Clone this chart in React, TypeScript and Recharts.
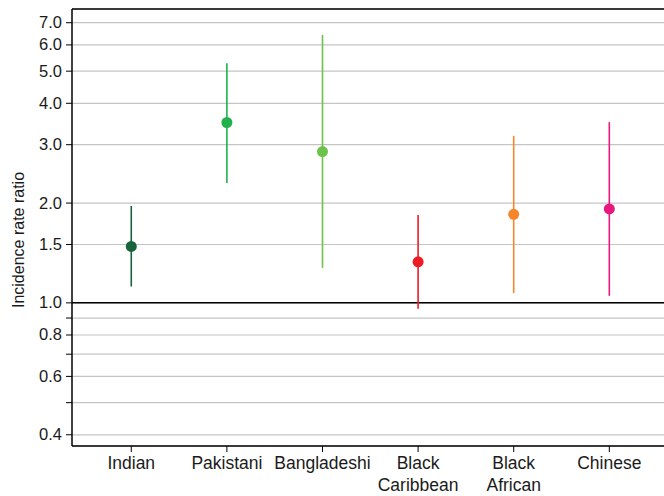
import React from "react";
import {
  ScatterChart,
  Scatter,
  XAxis,
  YAxis,
  CartesianGrid,
  ErrorBar,
  ReferenceLine,
} from "recharts";

const categories = ["Indian", "Pakistani", "Bangladeshi", "Black Caribbean", "Black African", "Chinese"];
const estimates = [1.48, 3.5, 2.86, 1.33, 1.85, 1.92];
const lowerCI = [1.12, 2.3, 1.275, 0.96, 1.07, 1.05];
const upperCI = [1.96, 5.28, 6.43, 1.84, 3.19, 3.51];
const colors = ["#17633a", "#22b14c", "#6cc24a", "#ed1c24", "#f7862a", "#e8177f"];
const yTicks = [0.4, 0.5, 0.6, 0.7, 0.8, 0.9, 1.0, 1.5, 2, 3, 4, 5, 6, 7];
const yTickLabels = ["0.4", "", "0.6", "", "0.8", "", "1.0", "1.5", "2.0", "3.0", "4.0", "5.0", "6.0", "7.0"];
const xTicks = [0, 1, 2, 3, 4, 5];

const FONT = "'Liberation Sans', Arial, Helvetica, sans-serif";
const Y_MIN = 0.37;
const Y_MAX = 7.7;

const seriesData = categories.map((c, i) => [
  { x: i, y: estimates[i], err: [estimates[i] - lowerCI[i], upperCI[i] - estimates[i]] },
]);

const XTick = (props: any) => {
  const { x, y, payload } = props;
  const label = categories[payload.value] ?? "";
  const words = label.split(" ");
  return (
    <text x={x} y={y + 15} textAnchor="middle" fontSize={17.5} fill="#1a1a1a" fontFamily={FONT}>
      {words.map((w: string, k: number) => (
        <tspan key={k} x={x} dy={k === 0 ? 0 : 22}>
          {w}
        </tspan>
      ))}
    </text>
  );
};

const YTick = (props: any) => {
  const { x, y, payload } = props;
  const idx = yTicks.indexOf(payload.value);
  const label = idx >= 0 ? yTickLabels[idx] : "";
  return (
    <text x={x} y={y} dy={5.5} textAnchor="end" fontSize={16.5} fill="#1a1a1a" fontFamily={FONT}>
      {label}
    </text>
  );
};

const YLabel = () => (
  <text
    x={18}
    y={240}
    transform="rotate(-90 18 240)"
    textAnchor="middle"
    dominantBaseline="central"
    fontSize={16}
    fill="#1a1a1a"
    fontFamily={FONT}
  >
    Incidence rate ratio
  </text>
);

export default function App() {
  return (
    <div style={{ position: "absolute", left: 0, top: 0, width: 664, height: 496, background: "#fff" }}>
      <ScatterChart width={664} height={496} margin={{ top: 9, right: 0, bottom: 0, left: 0 }}>
        <CartesianGrid horizontal={true} vertical={false} stroke="#c4c4c4" strokeWidth={1.2} />
        <XAxis
          type="number"
          dataKey="x"
          domain={[-0.62, 5.572]}
          ticks={xTicks}
          allowDataOverflow
          height={50}
          tick={<XTick />}
          tickSize={6}
          tickLine={{ stroke: "#000" }}
          axisLine={{ stroke: "#000", strokeWidth: 1.5 }}
          interval={0}
        />
        <YAxis
          type="number"
          dataKey="y"
          scale="log"
          domain={[Y_MIN, Y_MAX]}
          ticks={yTicks}
          allowDataOverflow
          width={72}
          tick={<YTick />}
          tickSize={6}
          tickMargin={4}
          tickLine={{ stroke: "#000" }}
          axisLine={{ stroke: "#000", strokeWidth: 1.5 }}
          interval={0}
          label={<YLabel />}
        />
        <ReferenceLine y={1} stroke="#000" strokeWidth={1.5} />
        <ReferenceLine y={Y_MAX} stroke="#000" strokeWidth={1.5} />
        {seriesData.map((d, i) => (
          <Scatter
            key={categories[i]}
            data={d}
            fill={colors[i]}
            isAnimationActive={false}
            shape={(p: any) => <circle cx={p.cx} cy={p.cy} r={5.5} fill={colors[i]} />}
          >
            <ErrorBar dataKey="err" direction="y" width={0} stroke={colors[i]} strokeWidth={1.6} />
          </Scatter>
        ))}
      </ScatterChart>
    </div>
  );
}
